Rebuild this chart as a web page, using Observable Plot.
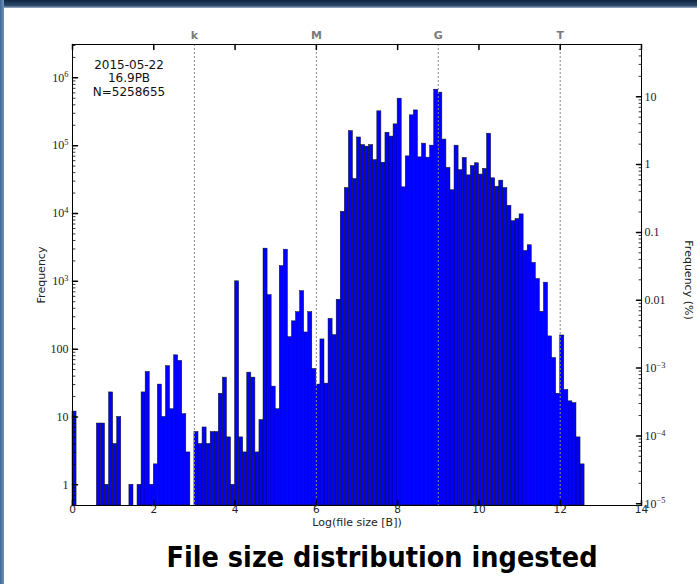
<!DOCTYPE html>
<html><head><meta charset="utf-8">
<script src="https://cdn.jsdelivr.net/npm/d3@7"></script>
<script src="https://cdn.jsdelivr.net/npm/@observablehq/plot@0.6"></script>
<style>
html,body{margin:0;padding:0;background:#fff;}
#wrap{position:relative;width:697px;height:584px;overflow:hidden;background:#fff;}
#topband{position:absolute;left:0;top:0;width:697px;height:8px;background:linear-gradient(#0f2540,#2c4a6c 70%,#9fb3c9);}
#leftband{position:absolute;left:0;top:0;width:4px;height:584px;background:linear-gradient(90deg,#3f6695,#7093bb);}
#chart{position:absolute;left:0;top:0;}
</style></head><body>
<div id="wrap"><div id="chart"></div><div id="topband"></div><div id="leftband"></div></div>
<script>
// Histogram counts per 0.1-wide bin of log10(file size), starting at 0
const counts = [
  12,0,0,0,0,0,8,8,1,23,
  4,10,0,0,1,0,1,23,46,1,
  2,30,10,56,13,81,67,11,3,0,
  6,4,7,4,6,6,22,38,5,1,
  1000,5,3,45,38,3,9,3030,626,28,
  13,1675,2925,150,257,351,717,176,351,51,
  30,139,31,280,161,535,10600,23700,164000,32200,
  132000,102000,96700,102000,61300,321000,56100,155000,136000,206000,
  493000,24300,69500,280000,331000,67200,107000,66500,100000,668000,
  605000,123000,47000,22000,100000,43500,66000,36500,50000,55000,
  37500,45500,150000,33000,24800,30500,23700,13000,7700,8300,
  9700,2800,3400,1870,1080,355,955,154,74,22,
  159,25,17,16,5,2
];
const binWidth = 0.1;
const totalFiles = 5258655;
const annotationLines = ["2015-05-22", "16.9PB", "N=5258655"];
const prefixLabels = ["k", "M", "G", "T"];
const prefixPositions = [3, 6, 9, 12];
const xTickValues = [0, 2, 4, 6, 8, 10, 12, 14];
const countTickValues = [1, 10, 100, 1e3, 1e4, 1e5, 1e6];
const countTickLabels = ["1", "10", "100", "10^3", "10^4", "10^5", "10^6"];
const pctTickValues = [10, 1, 0.1, 0.01, 1e-3, 1e-4, 1e-5];
const pctTickLabels = ["10", "1", "0.1", "0.01", "10^\u22123", "10^\u22124", "10^\u22125"];
const xLabel = "Log(file size [B])";
const yLabel = "Frequency";
const y2Label = "Frequency (%)";
const title = "File size distribution ingested";

const xDomain = [0, 14];
const yDomain = [0.495, 3.1e6];

const bins = counts
  .map((c, i) => ({x1: i * binWidth, x2: (i + 1) * binWidth, count: c}))
  .filter(d => d.count > 0);

const toCount = p => p * totalFiles / 100;
const pctDomain = yDomain.map(c => c / totalFiles * 100);
const countMinor = d3.scaleLog().domain(yDomain).ticks().filter(v => !countTickValues.some(t => Math.abs(t - v) / t < 1e-9));
const pctMinor = d3.scaleLog().domain(pctDomain).ticks().filter(v => !pctTickValues.some(t => Math.abs(t - v) / t < 1e-9));

const tickLine = {draw(ctx, l) { ctx.moveTo(0, 0); ctx.lineTo(0, -l); }};
const serif = "'Liberation Serif', 'DejaVu Serif', serif";
const sans = "'DejaVu Sans', sans-serif";

const chart = Plot.plot({
  width: 697,
  height: 584,
  marginLeft: 72,
  marginRight: 56,
  marginTop: 44,
  marginBottom: 79,
  style: {background: "transparent", fontFamily: sans, overflow: "visible"},
  x: {domain: xDomain, axis: null},
  y: {type: "log", domain: yDomain, axis: null},
  marks: [
    Plot.rect(bins, {x1: "x1", x2: "x2", y1: yDomain[0], y2: "count", fill: "#0000ff", stroke: "#111", strokeWidth: 0.5}),
    Plot.ruleX(prefixPositions, {stroke: "#8a8a8a", strokeDasharray: "2,2", strokeWidth: 1}),
    Plot.frame({stroke: "#000", strokeWidth: 1}),
    // inward ticks
    Plot.vector(xTickValues, {x: d => d, frameAnchor: "bottom", anchor: "start", rotate: 0, length: 5, shape: tickLine, stroke: "#000"}),
    Plot.vector(xTickValues, {x: d => d, frameAnchor: "top", anchor: "start", rotate: 180, length: 5, shape: tickLine, stroke: "#000"}),
    Plot.vector(countTickValues, {y: d => d, frameAnchor: "left", anchor: "start", rotate: 90, length: 5, shape: tickLine, stroke: "#000"}),
    Plot.vector(countMinor, {y: d => d, frameAnchor: "left", anchor: "start", rotate: 90, length: 2.5, shape: tickLine, stroke: "#000", strokeWidth: 0.8}),
    Plot.vector(pctTickValues, {y: d => toCount(d), frameAnchor: "right", anchor: "start", rotate: -90, length: 5, shape: tickLine, stroke: "#000"}),
    Plot.vector(pctMinor, {y: d => toCount(d), frameAnchor: "right", anchor: "start", rotate: -90, length: 2.5, shape: tickLine, stroke: "#000", strokeWidth: 0.8}),
    // tick labels
    Plot.text(xTickValues, {x: d => d, frameAnchor: "bottom", text: d => String(d), lineAnchor: "middle", textAnchor: "middle", dy: 4.5, fontSize: 10.5, fill: "#222", fontFamily: sans}),
    Plot.text(countTickValues, {y: d => d, frameAnchor: "left", text: (d, i) => countTickLabels[i], textAnchor: "end", lineAnchor: "middle", dx: -4, fontSize: 12, fill: "#222", fontFamily: serif}),
    Plot.text(pctTickValues, {y: d => toCount(d), frameAnchor: "right", text: (d, i) => pctTickLabels[i], textAnchor: "start", lineAnchor: "middle", dx: 3, fontSize: 12, fill: "#222", fontFamily: serif}),
    Plot.text(prefixPositions, {x: d => d, frameAnchor: "top", text: (d, i) => prefixLabels[i], textAnchor: "middle", lineAnchor: "middle", dy: -9, fontSize: 11, fontWeight: "bold", fill: "#7a7a7a", fontFamily: sans}),
    // annotation
    Plot.text([annotationLines.join("\n")], {frameAnchor: "top-left", dx: 56.5, dy: 15, textAnchor: "middle", lineAnchor: "top", lineHeight: 1.12, fontSize: 12, fill: "#111", fontFamily: sans}),
    // axis labels
    Plot.text([xLabel], {frameAnchor: "bottom", textAnchor: "middle", lineAnchor: "middle", dy: 17, fontSize: 11, fill: "#222", fontFamily: sans}),
    Plot.text([yLabel], {frameAnchor: "left", textAnchor: "middle", lineAnchor: "middle", dx: -31, rotate: -90, fontSize: 11, fill: "#222", fontFamily: sans}),
    Plot.text([y2Label], {frameAnchor: "right", textAnchor: "middle", lineAnchor: "middle", dx: 47, dy: 5, rotate: 90, fontSize: 11, fill: "#222", fontFamily: sans}),
    // title
    Plot.text([title], {frameAnchor: "bottom", textAnchor: "middle", lineAnchor: "middle", dx: 25, dy: 52.5, fontSize: 29, fontWeight: "bold", fill: "#000", fontFamily: sans})
  ]
});

// superscripts for log tick labels and title width
chart.querySelectorAll("text").forEach(t => {
  const s = t.textContent;
  if (s === title) {
    t.setAttribute("textLength", "431");
    t.setAttribute("lengthAdjust", "spacingAndGlyphs");
    return;
  }
  const k = s.indexOf("^");
  if (k < 0 || t.children.length) return;
  t.textContent = s.slice(0, k);
  const sp = document.createElementNS("http://www.w3.org/2000/svg", "tspan");
  sp.setAttribute("dy", "-0.5em");
  sp.setAttribute("style", "font-size:70%");
  sp.textContent = s.slice(k + 1);
  t.appendChild(sp);
});

document.getElementById("chart").appendChild(chart);
</script>
</body></html>
